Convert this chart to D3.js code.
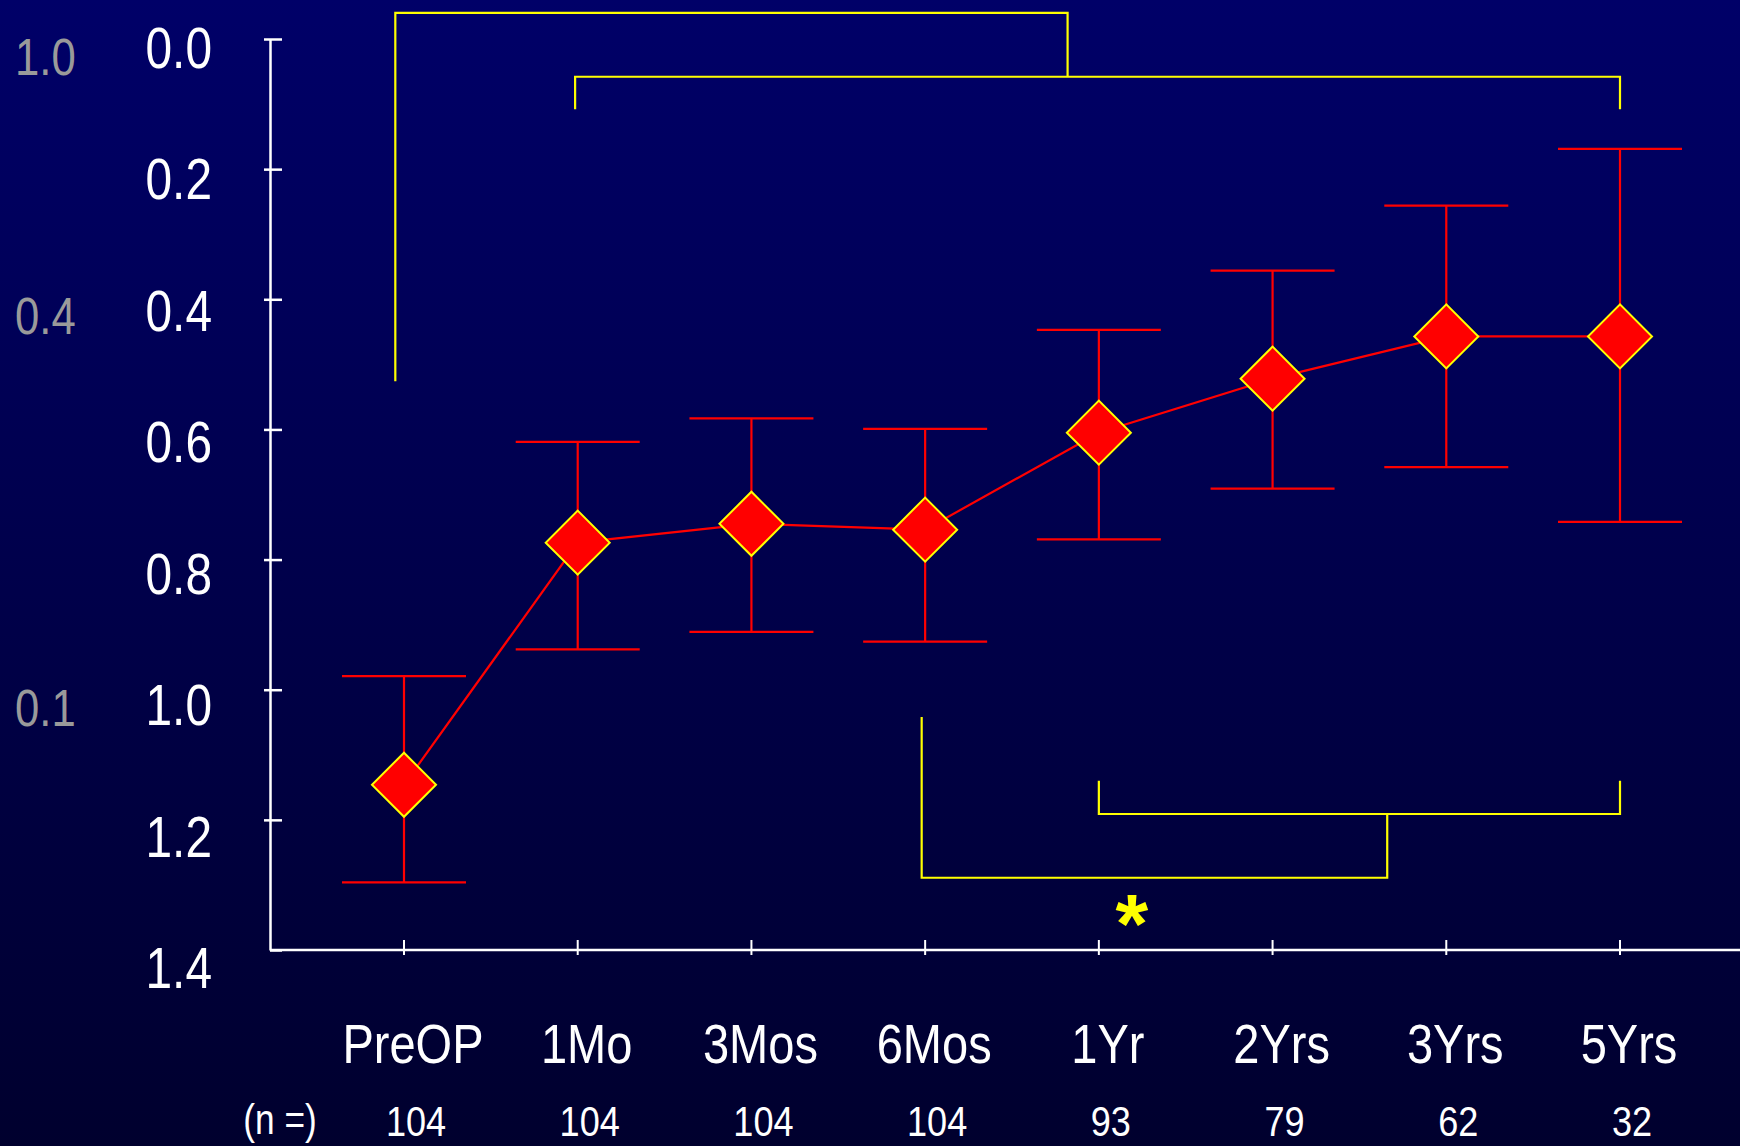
<!DOCTYPE html>
<html>
<head>
<meta charset="utf-8">
<script src="https://cdn.jsdelivr.net/npm/d3@7"></script>
<style>
  html, body { margin: 0; padding: 0; background: #000040; }
  svg { display: block; }
  text { font-family: "Liberation Sans", Arial, sans-serif; }
</style>
</head>
<body>
<div id="chart"></div>
<script>
// categories along the bottom
const categories = ["PreOP", "1Mo", "3Mos", "6Mos", "1Yr", "2Yrs", "3Yrs", "5Yrs"];
// logMAR mean and error bar ends
const means = [1.146, 0.774, 0.745, 0.754, 0.605, 0.522, 0.457, 0.457];
const upper = [0.979, 0.619, 0.583, 0.599, 0.447, 0.356, 0.256, 0.169];
const lower = [1.296, 0.938, 0.911, 0.926, 0.769, 0.691, 0.658, 0.742];
// number of eyes
const counts = [104, 104, 104, 104, 93, 79, 62, 32];
// axis ticks
const yTicks = [0.0, 0.2, 0.4, 0.6, 0.8, 1.0, 1.2, 1.4];
// decimal acuity labels shown on the far left
const decimalLabels = ["1.0", "0.4", "0.1"];

// significance brackets, in (category index, logMAR) units
const brackets = [
  [[-0.05, 0.526], [-0.05, -0.04], [3.82, -0.04], [3.82, 0.058]],
  [[0.985, 0.108], [0.985, 0.058], [7, 0.058], [7, 0.108]],
  [[2.98, 1.042], [2.98, 1.289], [5.66, 1.289], [5.66, 1.191]],
  [[4, 1.14], [4, 1.191], [7, 1.191], [7, 1.14]]
];
const starPos = [4.19, 1.343];

const W = 1740, H = 1146;
const narrow = 0.84; // squeeze text horizontally, like the condensed font of the slide

const svg = d3.select("#chart")
  .append("svg")
  .attr("width", W)
  .attr("height", H);

// background gradient
const grad = svg.append("defs").append("linearGradient")
  .attr("id", "bg").attr("x1", 0).attr("y1", 0).attr("x2", 0).attr("y2", 1);
grad.append("stop").attr("offset", "0%").attr("stop-color", "#000068");
grad.append("stop").attr("offset", "100%").attr("stop-color", "#00002e");
svg.append("rect").attr("width", W).attr("height", H).attr("fill", "url(#bg)");

const x = d3.scaleLinear().domain([0, categories.length - 1]).range([404, 1620]);
const y = d3.scaleLinear().domain([0, 1.4]).range([39, 950]);
const axisX = 270;

// condensed text helper
function label(sel, px, py, anchor, size, fill) {
  return sel
    .attr("transform", (d, i) => `translate(${px(d, i)},${py(d, i)}) scale(${narrow},1)`)
    .attr("text-anchor", anchor)
    .attr("font-size", size)
    .attr("fill", fill);
}

// Y axis
const yAxis = svg.append("g")
  .attr("transform", `translate(${axisX},0)`)
  .call(d3.axisLeft(y).tickValues(yTicks).tickFormat("").tickSize(0));
yAxis.select(".domain").attr("stroke", "#fff").attr("stroke-width", 2.5);
yAxis.selectAll(".tick line")
  .attr("x1", d => d === 1.4 ? 0 : -6).attr("x2", 12)
  .attr("stroke", "#fff").attr("stroke-width", 2.5);
svg.selectAll(".yl")
  .data(yTicks)
  .join("text")
  .attr("class", "yl")
  .call(label, () => 212, d => y(d) + 29 + 6.4 * d, "end", 57, "#fff")
  .text(d3.format(".1f"));

// X axis
const xAxis = svg.append("g")
  .attr("transform", `translate(0,${y(1.4)})`);
xAxis.append("line")
  .attr("x1", axisX).attr("x2", W)
  .attr("stroke", "#fff").attr("stroke-width", 2.5);
xAxis.selectAll(".xt")
  .data(categories)
  .join("line")
  .attr("class", "xt")
  .attr("x1", (d, i) => x(i)).attr("x2", (d, i) => x(i))
  .attr("y1", -10).attr("y2", 5)
  .attr("stroke", "#fff").attr("stroke-width", 2);
svg.selectAll(".xl")
  .data(categories)
  .join("text")
  .attr("class", "xl")
  .call(label, (d, i) => x(i) + 9, () => 1063, "middle", 56, "#fff")
  .text(d => d);

// n counts
svg.append("text")
  .datum("(n =)")
  .call(label, () => 280, () => 1134, "middle", 42, "#fff")
  .text(d => d);
svg.selectAll(".nl")
  .data(counts)
  .join("text")
  .attr("class", "nl")
  .call(label, (d, i) => x(i) + 12, () => 1136, "middle", 43, "#fff")
  .text(d => d);

// decimal acuity labels
svg.selectAll(".dl")
  .data(decimalLabels)
  .join("text")
  .attr("class", "dl")
  .call(label, () => 15, d => y(-Math.log10(+d)) + 36, "start", 52, "#9a9a9a")
  .text(d => d);

// significance brackets
const bline = d3.line().x(d => x(d[0])).y(d => y(d[1]));
svg.selectAll(".br")
  .data(brackets)
  .join("path")
  .attr("class", "br")
  .attr("d", bline)
  .attr("fill", "none")
  .attr("stroke", "#ffff00").attr("stroke-width", 2.2);
svg.append("text")
  .attr("x", x(starPos[0])).attr("y", y(starPos[1]))
  .attr("dy", "0.48em")
  .attr("text-anchor", "middle")
  .attr("fill", "#ffff00").attr("font-size", 84).attr("font-weight", "bold")
  .text("*");

// error bars
const capHalf = 62;
const eb = svg.append("g").attr("stroke", "#ff0000").attr("stroke-width", 2.2);
eb.selectAll(".ev")
  .data(categories)
  .join("line")
  .attr("x1", (d, i) => x(i)).attr("x2", (d, i) => x(i))
  .attr("y1", (d, i) => y(upper[i])).attr("y2", (d, i) => y(lower[i]));
eb.selectAll(".cu")
  .data(categories)
  .join("line")
  .attr("x1", (d, i) => x(i) - capHalf).attr("x2", (d, i) => x(i) + capHalf)
  .attr("y1", (d, i) => y(upper[i])).attr("y2", (d, i) => y(upper[i]));
eb.selectAll(".cl")
  .data(categories)
  .join("line")
  .attr("x1", (d, i) => x(i) - capHalf).attr("x2", (d, i) => x(i) + capHalf)
  .attr("y1", (d, i) => y(lower[i])).attr("y2", (d, i) => y(lower[i]));

// mean line
svg.append("path")
  .datum(means)
  .attr("fill", "none")
  .attr("stroke", "#ff0000")
  .attr("stroke-width", 2.2)
  .attr("d", d3.line().x((d, i) => x(i)).y(d => y(d)));

// diamond markers
svg.selectAll(".mk")
  .data(means)
  .join("path")
  .attr("class", "mk")
  .attr("d", d3.symbol().type(d3.symbolSquare).size(2048))
  .attr("transform", (d, i) => `translate(${x(i)},${y(d)}) rotate(45)`)
  .attr("fill", "#ff0000")
  .attr("stroke", "#ffff00")
  .attr("stroke-width", 2);
</script>
</body>
</html>
